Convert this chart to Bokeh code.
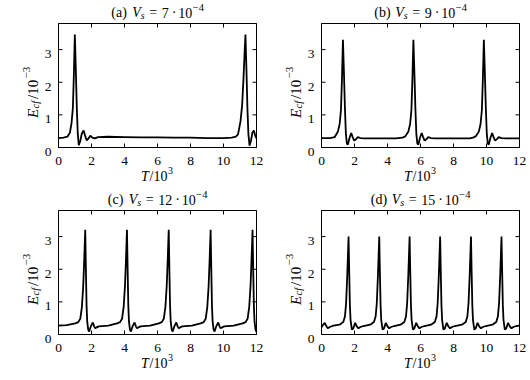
import math
from bokeh.plotting import figure
from bokeh.layouts import column, row
from bokeh.models import Range1d
from bokeh.core.properties import value
from bokeh.embed import file_html
from bokeh.resources import INLINE

# ---------------- data ----------------
x_ticks = [0, 2, 4, 6, 8, 10, 12]
x_tick_labels = ["0", "2", "4", "6", "8", "10", "12"]
y_ticks = [0, 1, 2, 3]
y_tick_labels = ["0", "1", "2", "3"]
x_max = 12
y_max = 3.8
panel_letters = ["(a)", "(b)", "(c)", "(d)"]
vs_mantissa = ["7", "9", "12", "15"]
vs_exponent = "4"

# (T/10^3, E_cf/10^-3)
series_a = [(0.00, 0.29), (0.30, 0.30), (0.54, 0.33), (0.69, 0.45), (0.79, 0.75), (0.87, 1.20),
            (0.93, 2.20), (0.99, 3.46), (1.05, 2.40), (1.11, 1.20), (1.17, 0.40), (1.23, 0.07),
            (1.32, 0.20), (1.41, 0.42), (1.52, 0.52), (1.62, 0.35), (1.71, 0.22), (1.82, 0.28),
            (1.93, 0.36), (2.05, 0.30), (2.20, 0.28), (2.40, 0.32), (3.00, 0.33), (4.00, 0.32),
            (5.00, 0.31), (6.00, 0.31), (7.00, 0.30), (8.00, 0.30), (9.00, 0.29), (10.00, 0.29),
            (10.50, 0.30), (10.75, 0.33), (10.88, 0.40), (11.03, 0.80), (11.13, 1.30), (11.21, 2.10),
            (11.27, 2.80), (11.33, 3.46), (11.39, 2.40), (11.45, 1.20), (11.51, 0.40), (11.58, 0.06),
            (11.66, 0.20), (11.75, 0.45), (11.84, 0.52), (11.93, 0.35), (12.00, 0.28)]

series_b = [(0.00, 0.29), (0.50, 0.29), (0.80, 0.32), (0.99, 0.48), (1.10, 0.72), (1.18, 1.15),
            (1.24, 2.10), (1.30, 3.30), (1.36, 2.30), (1.42, 1.20), (1.48, 0.40), (1.54, 0.12),
            (1.60, 0.09), (1.70, 0.30), (1.80, 0.44), (1.89, 0.32), (1.98, 0.21), (2.08, 0.25),
            (2.20, 0.32), (2.35, 0.29), (2.60, 0.28), (3.50, 0.28), (4.50, 0.28), (4.90, 0.30),
            (5.07, 0.34), (5.26, 0.48), (5.37, 0.72), (5.45, 1.15), (5.51, 2.10), (5.57, 3.30),
            (5.63, 2.30), (5.69, 1.20), (5.75, 0.40), (5.81, 0.12), (5.87, 0.09), (5.97, 0.30),
            (6.07, 0.44), (6.16, 0.32), (6.25, 0.21), (6.35, 0.25), (6.47, 0.32), (6.62, 0.29),
            (6.90, 0.28), (8.00, 0.28), (9.00, 0.28), (9.17, 0.30), (9.34, 0.34), (9.53, 0.48),
            (9.64, 0.72), (9.72, 1.15), (9.78, 2.10), (9.84, 3.30), (9.90, 2.30), (9.96, 1.20),
            (10.02, 0.40), (10.08, 0.12), (10.14, 0.09), (10.24, 0.30), (10.34, 0.44), (10.43, 0.32),
            (10.52, 0.21), (10.62, 0.25), (10.74, 0.32), (10.90, 0.29), (11.20, 0.28), (12.00, 0.28)]

series_c = [(0.00, 0.27), (0.50, 0.29), (1.02, 0.34),
            (1.20, 0.38), (1.32, 0.48), (1.42, 0.85), (1.50, 1.50), (1.56, 2.30), (1.62, 3.21),
            (1.66, 2.00), (1.70, 0.90), (1.74, 0.40), (1.80, 0.15), (1.86, 0.09), (1.96, 0.25),
            (2.08, 0.37), (2.16, 0.25), (2.23, 0.19), (2.32, 0.22), (2.44, 0.25), (3.02, 0.27),
            (3.55, 0.34),
            (3.73, 0.38), (3.85, 0.48), (3.95, 0.85), (4.03, 1.50), (4.09, 2.30), (4.15, 3.21),
            (4.19, 2.00), (4.23, 0.90), (4.27, 0.40), (4.33, 0.15), (4.39, 0.09), (4.49, 0.25),
            (4.61, 0.37), (4.69, 0.25), (4.76, 0.19), (4.85, 0.22), (4.97, 0.25), (5.55, 0.27),
            (6.08, 0.34),
            (6.26, 0.38), (6.38, 0.48), (6.48, 0.85), (6.56, 1.50), (6.62, 2.30), (6.68, 3.21),
            (6.72, 2.00), (6.76, 0.90), (6.80, 0.40), (6.86, 0.15), (6.92, 0.09), (7.02, 0.25),
            (7.14, 0.37), (7.22, 0.25), (7.29, 0.19), (7.38, 0.22), (7.50, 0.25), (8.08, 0.27),
            (8.62, 0.34),
            (8.80, 0.38), (8.92, 0.48), (9.02, 0.85), (9.10, 1.50), (9.16, 2.30), (9.22, 3.21),
            (9.26, 2.00), (9.30, 0.90), (9.34, 0.40), (9.40, 0.15), (9.46, 0.09), (9.56, 0.25),
            (9.68, 0.37), (9.76, 0.25), (9.83, 0.19), (9.92, 0.22), (10.04, 0.25), (10.62, 0.27),
            (11.16, 0.34),
            (11.34, 0.38), (11.46, 0.48), (11.56, 0.85), (11.64, 1.50), (11.70, 2.30), (11.76, 3.21),
            (11.80, 2.00), (11.84, 0.90), (11.88, 0.40), (11.94, 0.15), (12.00, 0.08)]

series_d = [(0.00, 0.22), (0.10, 0.30), (0.20, 0.36), (0.30, 0.25), (0.38, 0.19), (0.50, 0.23),
            (0.72, 0.27), (1.09, 0.30),
            (1.32, 0.38), (1.42, 0.55), (1.49, 0.95), (1.56, 1.80), (1.60, 2.40), (1.64, 3.00),
            (1.68, 1.90), (1.72, 0.90), (1.76, 0.45), (1.84, 0.15), (1.92, 0.18), (2.04, 0.36),
            (2.14, 0.25), (2.24, 0.19), (2.36, 0.23), (2.54, 0.26), (2.95, 0.30),
            (3.18, 0.38), (3.28, 0.55), (3.35, 0.95), (3.42, 1.80), (3.46, 2.40), (3.50, 3.00),
            (3.54, 1.90), (3.58, 0.90), (3.62, 0.45), (3.70, 0.15), (3.78, 0.18), (3.90, 0.36),
            (4.00, 0.25), (4.10, 0.19), (4.22, 0.23), (4.40, 0.26), (4.79, 0.30),
            (5.02, 0.38), (5.12, 0.55), (5.19, 0.95), (5.26, 1.80), (5.30, 2.40), (5.34, 3.00),
            (5.38, 1.90), (5.42, 0.90), (5.46, 0.45), (5.54, 0.15), (5.62, 0.18), (5.74, 0.36),
            (5.84, 0.25), (5.94, 0.19), (6.06, 0.23), (6.24, 0.26), (6.64, 0.30),
            (6.87, 0.38), (6.97, 0.55), (7.04, 0.95), (7.11, 1.80), (7.15, 2.40), (7.19, 3.00),
            (7.23, 1.90), (7.27, 0.90), (7.31, 0.45), (7.39, 0.15), (7.47, 0.18), (7.59, 0.36),
            (7.69, 0.25), (7.79, 0.19), (7.91, 0.23), (8.09, 0.26), (8.51, 0.30),
            (8.74, 0.38), (8.84, 0.55), (8.91, 0.95), (8.98, 1.80), (9.02, 2.40), (9.06, 3.00),
            (9.10, 1.90), (9.14, 0.90), (9.18, 0.45), (9.26, 0.15), (9.34, 0.18), (9.46, 0.36),
            (9.56, 0.25), (9.66, 0.19), (9.78, 0.23), (9.96, 0.26), (10.36, 0.30),
            (10.59, 0.38), (10.69, 0.55), (10.76, 0.95), (10.83, 1.80), (10.87, 2.40), (10.91, 3.00),
            (10.95, 1.90), (10.99, 0.90), (11.03, 0.45), (11.11, 0.15), (11.19, 0.18), (11.31, 0.36),
            (11.41, 0.25), (11.51, 0.19), (11.63, 0.23), (11.81, 0.26), (12.00, 0.27)]

all_series = [series_a, series_b, series_c, series_d]

# ---------------- styling / layout (pixels) ----------------
FONT = "Liberation Serif"
FS = 14          # main font size (px)
FS_SMALL = 10    # sub/superscript size
FS_TICK = "13.5px"
BOX_W = 198
BOX_H = 124
TICK_LEN = 4


def txt(p, x, y, s, dx, dy, size, italic=False, angle=0.0, align="left"):
    p.text(x=[x], y=[y], text=[s], x_offset=dx, y_offset=dy, angle=angle,
           text_font=value(FONT), text_font_size=f"{size}px",
           text_font_style="italic" if italic else "normal",
           text_align=align, text_baseline="alphabetic", text_color="black")


def make_panel(idx, left, right, top, bottom):
    pts = all_series[idx]
    xs = [a for a, _ in pts]
    ys = [b for _, b in pts]
    kx = BOX_W / x_max            # px per x unit
    ky = BOX_H / y_max            # px per y unit
    p = figure(width=left + BOX_W + right, height=top + BOX_H + bottom,
               x_range=Range1d(-left / kx, x_max + right / kx),
               y_range=Range1d(-bottom / ky, y_max + top / ky),
               toolbar_location=None, output_backend="svg",
               x_axis_type=None, y_axis_type=None,
               min_border_left=0, min_border_right=0,
               min_border_top=0, min_border_bottom=0)
    p.background_fill_color = "white"
    p.border_fill_color = "white"
    p.outline_line_color = None

    # axes box
    p.quad(left=[0], right=[x_max], bottom=[0], top=[y_max],
           fill_color=None, line_color="black", line_width=1)

    # ticks on all four sides, pointing inward
    tx = TICK_LEN / kx
    ty_ = TICK_LEN / ky
    p.segment(x0=x_ticks, y0=[0] * len(x_ticks), x1=x_ticks, y1=[ty_] * len(x_ticks),
              line_color="black", line_width=1)
    p.segment(x0=x_ticks, y0=[y_max] * len(x_ticks), x1=x_ticks, y1=[y_max - ty_] * len(x_ticks),
              line_color="black", line_width=1)
    p.segment(x0=[0] * len(y_ticks), y0=y_ticks, x1=[tx] * len(y_ticks), y1=y_ticks,
              line_color="black", line_width=1)
    p.segment(x0=[x_max] * len(y_ticks), y0=y_ticks, x1=[x_max - tx] * len(y_ticks), y1=y_ticks,
              line_color="black", line_width=1)

    # tick labels
    p.text(x=x_ticks, y=[0] * len(x_ticks), text=x_tick_labels, y_offset=13.5,
           text_font=value(FONT), text_font_size=FS_TICK, text_align="center",
           text_baseline="alphabetic", text_color="black")
    p.text(x=[0] * len(y_ticks), y=y_ticks, text=y_tick_labels, x_offset=-7, y_offset=4.5,
           text_font=value(FONT), text_font_size=FS_TICK, text_align="right",
           text_baseline="alphabetic", text_color="black")

    # data line
    p.line(xs, ys, line_color="black", line_width=1.8)

    cx = x_max / 2
    # ---- title: (x) V_s = N · 10^-4 ----
    nd = len(vs_mantissa[idx])
    dw = 7.0 * nd                      # width of the mantissa
    total = 92.5 + dw - 7.0
    s0 = -total / 2
    tb = -11
    txt(p, cx, y_max, panel_letters[idx], s0, tb, FS)
    txt(p, cx, y_max, "V", s0 + 21, tb, FS, italic=True)
    txt(p, cx, y_max, "s", s0 + 29.5, tb + 3, FS_SMALL, italic=True)
    txt(p, cx, y_max, "=", s0 + 38, tb, FS)
    txt(p, cx, y_max, vs_mantissa[idx], s0 + 50.5, tb, FS)
    s1 = s0 + 50.5 + dw
    txt(p, cx, y_max, "·", s1 + 3, tb, FS)
    txt(p, cx, y_max, "10", s1 + 9.5, tb, FS)
    txt(p, cx, y_max, "−", s1 + 24, tb - 5.5, 10.5)
    txt(p, cx, y_max, vs_exponent, s1 + 30, tb - 5.5, 10.5)

    # ---- x label: T/10^3 ----
    bb = 28.5
    txt(p, cx, 0, "T", -16.5, bb, FS, italic=True)
    txt(p, cx, 0, "/10", -8, bb, FS)
    txt(p, cx, 0, "3", 10.5, bb - 6, FS_SMALL)

    # ---- y label: E_cf/10^-3 (rotated) ----
    ang = math.pi / 2
    bx = -26
    txt(p, 0, 0, "E", bx, -29.5, 15, italic=True, angle=ang)
    txt(p, 0, 0, "cf", bx + 3, -39, 10.5, italic=True, angle=ang)
    txt(p, 0, 0, "/10", bx, -48.5, 15, angle=ang)
    txt(p, 0, 0, "−3", bx - 6, -69, 11, angle=ang)
    return p


# page starts at (0, 0); rows split at y = 183, columns at x = 265
p1 = make_panel(0, 58, 9, 23, 36)
p2 = make_panel(1, 56, 11, 23, 36)
p3 = make_panel(2, 58, 9, 27, 46)
p4 = make_panel(3, 56, 11, 27, 46)

layout = column(row(p1, p2, spacing=0), row(p3, p4, spacing=0), spacing=0)

with open("out.html", "w") as f:
    f.write(file_html(layout, INLINE))
